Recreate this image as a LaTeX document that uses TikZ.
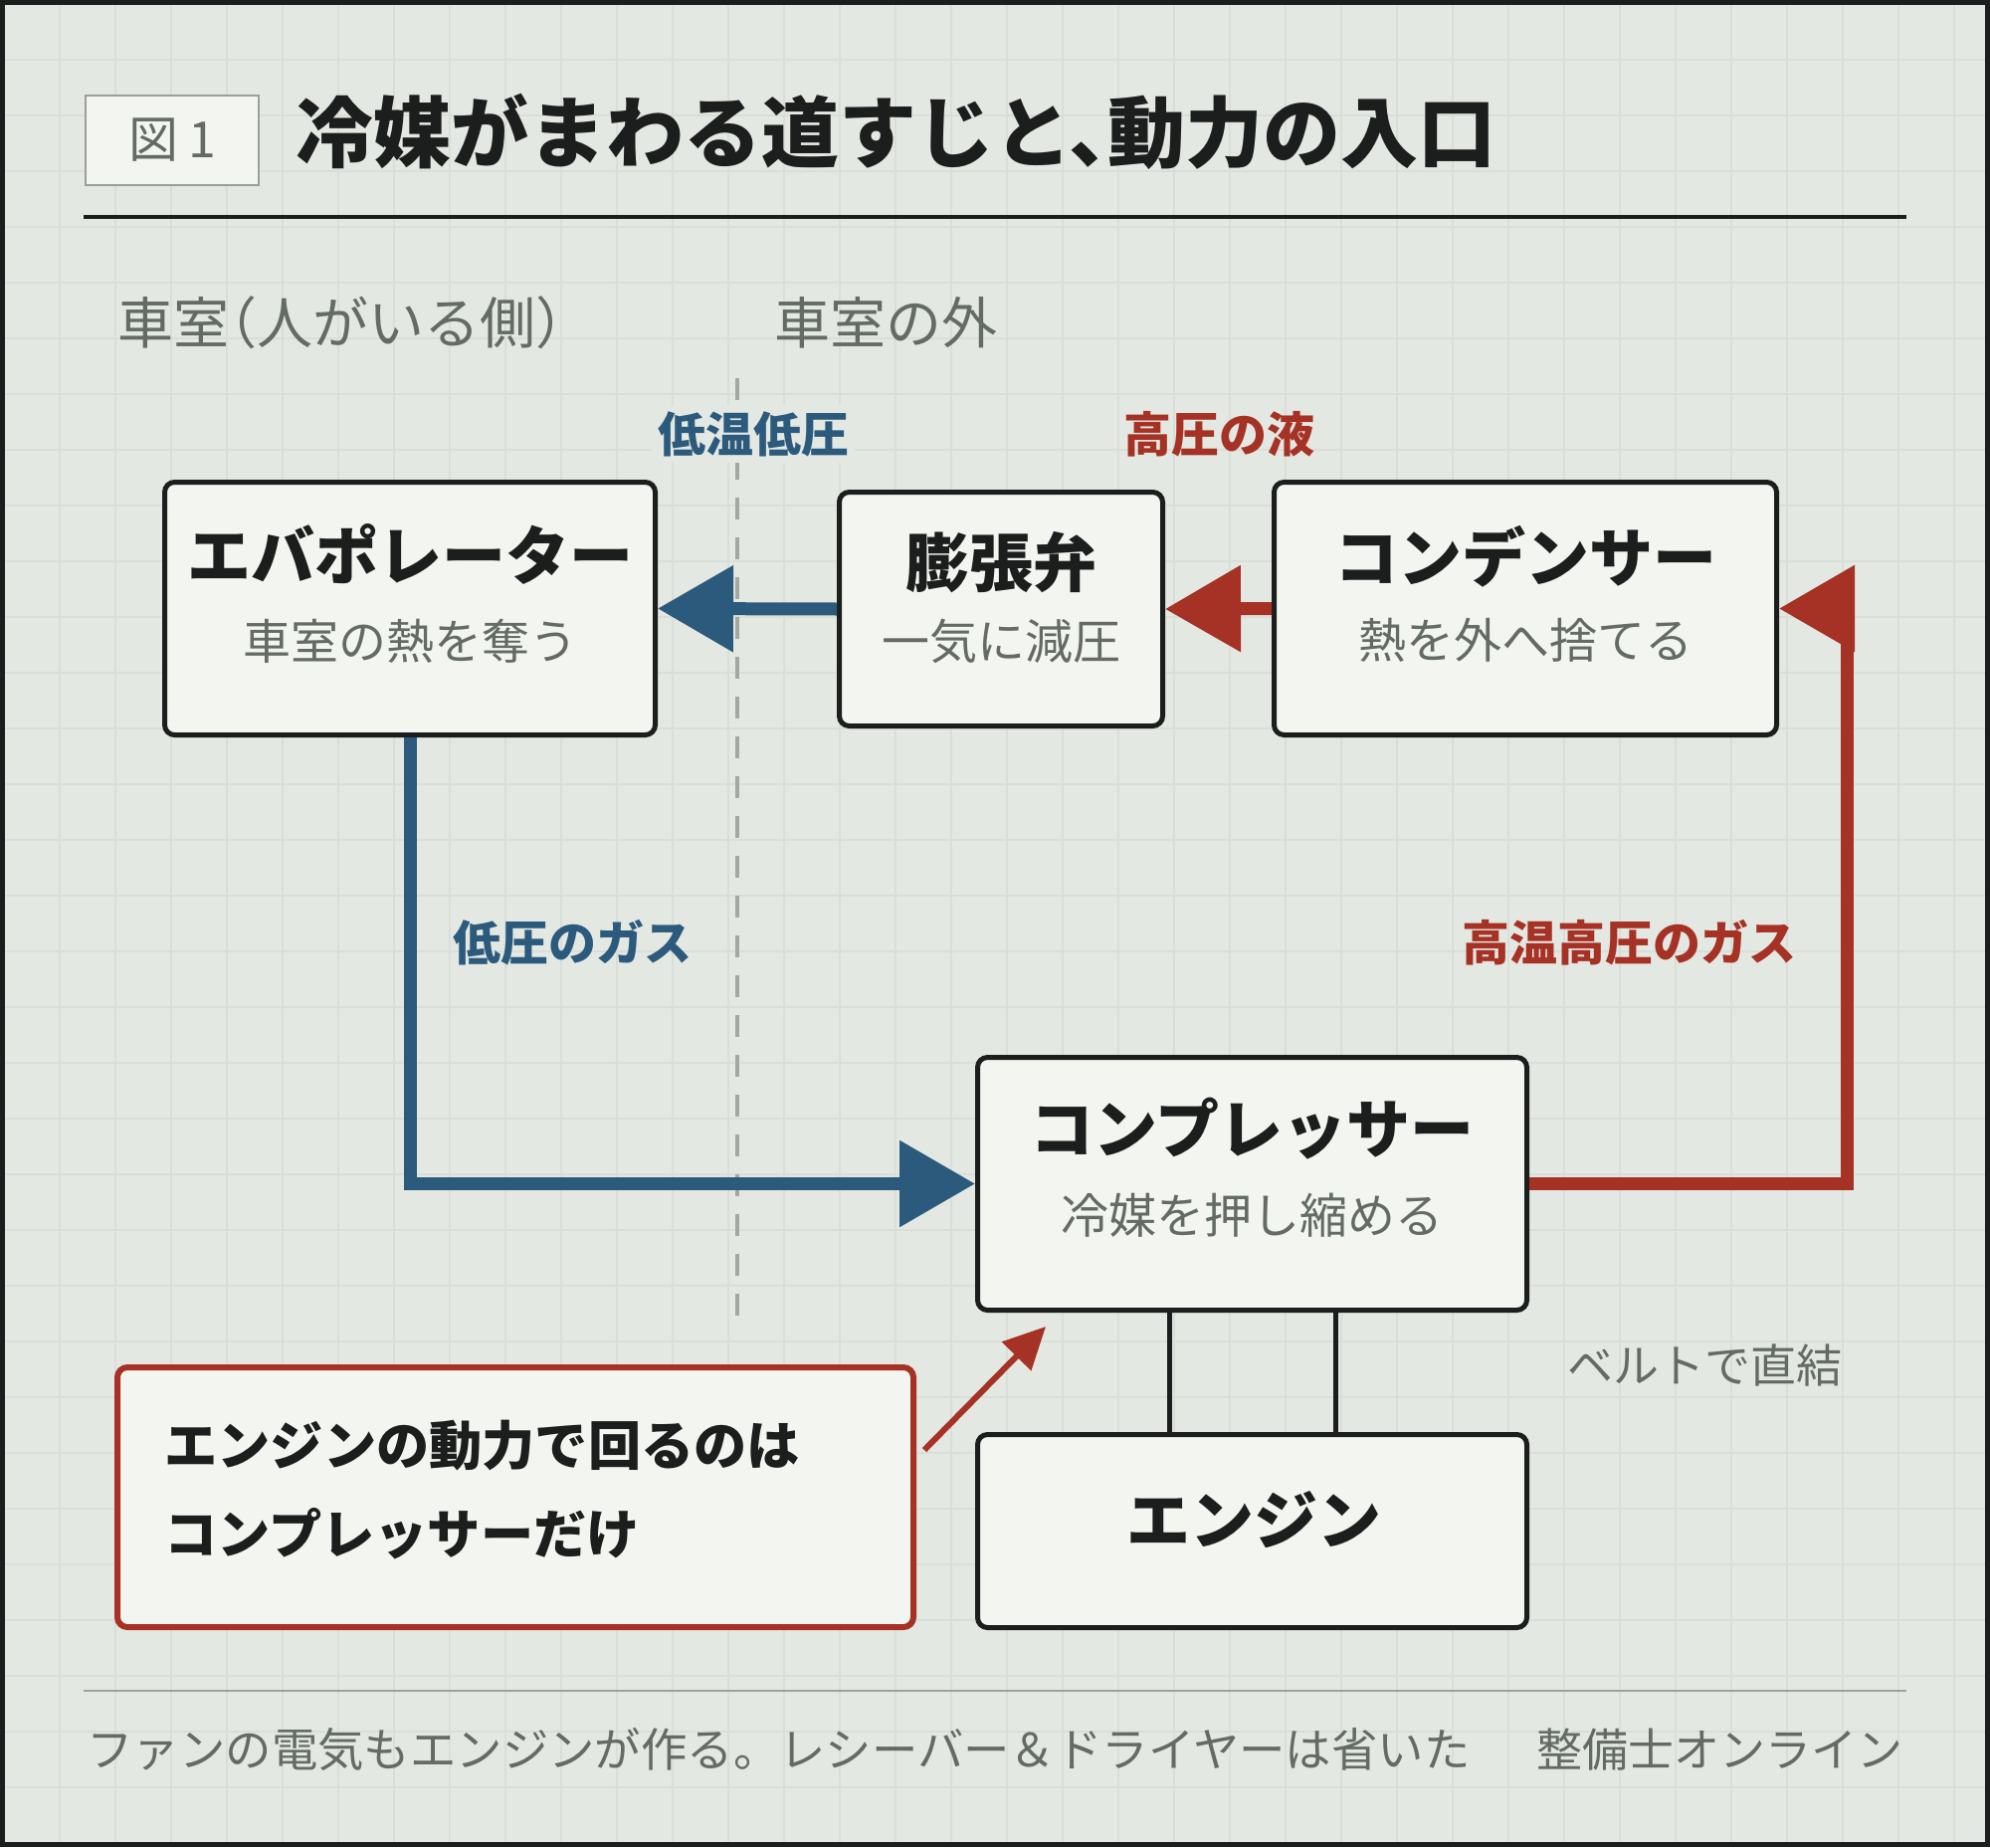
\documentclass[tikz,border=0pt]{standalone}
\usepackage{fontspec}
\setmainfont{Noto Sans CJK JP}
\newfontfamily\jph{Noto Sans CJK JP}[RawFeature=+halt]
\usetikzlibrary{arrows.meta}
\definecolor{bg}{HTML}{E3E8E2}
\definecolor{gridc}{HTML}{D9DED8}
\definecolor{boxfill}{HTML}{F3F5F1}
\definecolor{dark}{HTML}{1C1E1D}
\definecolor{grayt}{HTML}{636B64}
\definecolor{blueC}{HTML}{2C5A7C}
\definecolor{redC}{HTML}{A63125}
\definecolor{dashc}{HTML}{A3A8A2}
\definecolor{footc}{HTML}{9DA39C}
\definecolor{figborder}{HTML}{9AA099}
\tikzset{
  box/.style={draw=dark, line width=2.5pt, fill=boxfill, rounded corners=5pt, inner sep=0pt},
  ttl/.style={font=\fontsize{32}{36}\selectfont\bfseries, text=dark, inner sep=0pt},
  subt/.style={font=\fontsize{24}{28}\selectfont, text=grayt, inner sep=0pt},
  flowlab/.style={font=\fontsize{24}{28}\selectfont\bfseries, inner sep=0pt},
  zone/.style={font=\jph\fontsize{28}{30}\selectfont, text=grayt, inner sep=0pt},
  smalltxt/.style={font=\fontsize{23}{26}\selectfont, text=grayt, inner sep=0pt},
  blueflow/.style={draw=blueC, line width=6.5pt, -{Triangle[length=38pt,width=42pt]}},
  redflow/.style={draw=redC, line width=6.5pt, -{Triangle[length=38pt,width=42pt]}},
  notearrow/.style={draw=redC, line width=3pt, -{Triangle[length=21pt,width=20pt]}},
  belt/.style={draw=dark, line width=2.5pt},
  divider/.style={draw=dashc, line width=2pt, dash pattern=on 11pt off 9pt},
}
\begin{document}
\begin{tikzpicture}[x=0.5pt,y=-0.5pt]
\useasboundingbox (0,0) rectangle (2000,1856);
\fill[bg] (0,0) rectangle (2000,1856);
\foreach \i in {60,116,...,1996} \draw[gridc, line width=0.9pt] (\i,4) -- (\i,1852);
\foreach \j in {60,116,...,1852} \draw[gridc, line width=0.9pt] (4,\j) -- (1996,\j);
\draw[dark, line width=2.5pt] (2.5,2.5) rectangle (1997.5,1853.5);

% header
\node[draw=figborder, line width=1pt, fill=boxfill, minimum width=87pt, minimum height=45pt, inner sep=0pt,
      font=\fontsize{25}{28}\selectfont, text=grayt] (fig) at (173,141) {図\kern5pt 1};
\node[anchor=west, inner sep=0pt, font=\jph\fontsize{39}{40}\selectfont\bfseries, text=dark] (title) at (297,132) {冷媒がまわる道すじと、動力の入口};
\coordinate (h1) at (84,218); \coordinate (h2) at (1916,218);
\draw[dark, line width=2.3pt] (h1) -- (h2);

% zones
\node[zone, anchor=west] (zin) at (118,324) {車室（人がいる側）};
\node[zone, anchor=west] (zout) at (778,324) {車室の外};
\coordinate (d1) at (741,380); \coordinate (d2) at (741,1323);
\draw[divider] (d1) -- (d2);

% boxes
\node[box, minimum width=246.5pt, minimum height=127pt] (evap) at (412,611.5) {};
\node[ttl] (evapT) at (412,557) {エバポレーター};
\node[subt] (evapS) at (412,644) {車室の熱を奪う};

\node[box, minimum width=162.5pt, minimum height=117.5pt] (valve) at (1006,612) {};
\node[ttl] (valveT) at (1006,565) {膨張弁};
\node[subt] (valveS) at (1006,644) {一気に減圧};

\node[box, minimum width=252.5pt, minimum height=127pt] (cond) at (1533,611.5) {};
\node[ttl] (condT) at (1533,559) {コンデンサー};
\node[subt] (condS) at (1533,643) {熱を外へ捨てる};

\node[box, minimum width=276pt, minimum height=127pt] (comp) at (1258.5,1189.5) {};
\node[ttl] (compT) at (1258.5,1134) {コンプレッサー};
\node[subt] (compS) at (1258.5,1221) {冷媒を押し縮める};

\node[box, minimum width=276pt, minimum height=97pt] (eng) at (1258.5,1538.5) {};
\node[ttl] (engT) at (1260,1527) {エンジン};

% flows
\draw[blueflow] (valve.west) -- (evap.east);
\draw[redflow] (cond.west) -- (valve.east);
\draw[blueflow] (evap.south) |- (comp.west);
\coordinate (rx) at (1856,0);
\draw[redflow] (comp.east) -- (comp.east -| rx) -- (cond.east -| rx) -- (cond.east);

% flow labels
\node[flowlab, text=blueC, fill=bg, inner sep=3pt] (lt) at (757,436) {低温低圧};
\node[flowlab, text=redC] (hl) at (1225,436) {高圧の液};
\node[flowlab, text=blueC] (lg) at (575,947) {低圧のガス};
\node[flowlab, text=redC] (hg) at (1637,947) {高温高圧のガス};

% belt
\coordinate (b1) at (1175,0); \coordinate (b2) at (1342,0);
\draw[belt] (comp.south -| b1) -- (eng.north -| b1);
\draw[belt] (comp.south -| b2) -- (eng.north -| b2);
\node[smalltxt, anchor=west] (beltT) at (1575,1372) {ベルトで直結};

% callout
\node[draw=redC, line width=3pt, fill=boxfill, rounded corners=5pt, minimum width=400pt, minimum height=130.5pt, inner sep=0pt] (note) at (518,1504.5) {};
\node[anchor=west, align=left, inner sep=0pt, font=\fontsize{26.6}{44.5}\selectfont\bfseries, text=dark] (noteT) at (165,1497.5) {エンジンの動力で回るのは\\コンプレッサーだけ};
\coordinate (ca) at (929,1457); \coordinate (cb) at (1051,1333);
\draw[notearrow] (ca) -- (cb);

% footer
\coordinate (f1) at (84,1699); \coordinate (f2) at (1916,1699);
\draw[footc, line width=1.3pt] (f1) -- (f2);
\node[smalltxt, anchor=west, font=\fontsize{23.2}{26}\selectfont] (foot) at (87,1758) {ファンの電気もエンジンが作る。レシーバー＆ドライヤーは省いた};
\node[smalltxt, anchor=east] (brand) at (1913,1758) {整備士オンライン};
\end{tikzpicture}
\end{document}
